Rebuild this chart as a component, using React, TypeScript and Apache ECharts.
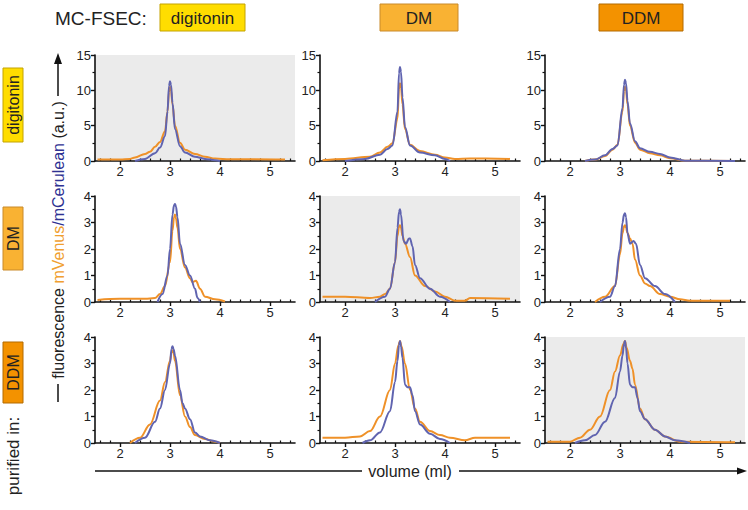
import React, { useEffect, useRef } from "react";
import * as echarts from "echarts";

const detergents = ["digitonin", "DM", "DDM"];
const detergentColors = ["#FFDD00", "#F9B233", "#F39200"];
const detergentBorders = ["#C4A300", "#C98A2A", "#B36B00"];
const yMaxByRow = [15, 4, 4];
const yIntervalByRow = [5, 1, 1];
const xMajorTicks = [2, 3, 4, 5];
const xMinorTicks = [1.6, 1.8, 2.2, 2.4, 2.6, 2.8, 3.2, 3.4, 3.6, 3.8, 4.2, 4.4, 4.6, 4.8, 5.2, 5.4];

// row 1: purified in digitonin
const p11Venus = [[1.55, 0.2], [2.0, 0.2], [2.2, 0.3], [2.3, 0.5], [2.5, 1.0], [2.6, 1.3], [2.7, 2.0], [2.8, 2.7], [2.9, 4.2], [2.95, 7], [2.98, 9.8], [3.0, 10.5], [3.02, 10.0], [3.05, 8], [3.1, 5], [3.2, 2.6], [3.3, 1.6], [3.5, 1.0], [3.7, 0.6], [3.9, 0.35], [4.2, 0.25], [4.6, 0.25], [5.3, 0.2]];
const p11Cerulean = [[2.3, 0], [2.5, 0.3], [2.7, 1.1], [2.8, 1.9], [2.9, 3.5], [2.95, 7], [2.98, 10.6], [3.0, 11.3], [3.02, 10.8], [3.05, 8.2], [3.1, 4.5], [3.2, 2.1], [3.3, 1.2], [3.5, 0.6], [3.7, 0.3], [3.9, 0.1], [4.0, 0]];
const p12Venus = [[1.55, 0.1], [2.0, 0.3], [2.5, 0.6], [2.7, 1.2], [2.85, 2.0], [2.95, 2.5], [3.05, 6], [3.08, 10.2], [3.1, 11], [3.12, 10.4], [3.15, 8], [3.2, 4.5], [3.3, 2.3], [3.5, 1.4], [3.8, 0.9], [4.0, 0.5], [4.2, 0.3], [4.5, 0.35], [5.3, 0.3]];
const p12Cerulean = [[2.0, 0], [2.4, 0.3], [2.7, 0.9], [2.85, 1.7], [2.95, 2.2], [3.05, 7], [3.08, 12.4], [3.1, 13.3], [3.12, 12.6], [3.15, 9], [3.2, 4.8], [3.3, 2.2], [3.5, 1.2], [3.8, 0.8], [4.0, 0.3], [4.1, 0]];
const p13Venus = [[2.3, 0], [2.5, 0.2], [2.7, 0.7], [2.85, 1.6], [2.95, 2.3], [3.05, 7], [3.08, 9.9], [3.1, 10.5], [3.12, 10.0], [3.15, 8], [3.2, 5], [3.3, 2.6], [3.4, 1.6], [3.6, 1.1], [3.8, 0.8], [4.0, 0.4], [4.3, 0.05], [5.3, 0]];
const p13Cerulean = [[2.3, 0], [2.5, 0.2], [2.7, 0.8], [2.85, 1.7], [2.95, 2.2], [3.05, 7.5], [3.08, 10.8], [3.1, 11.5], [3.12, 11.0], [3.15, 8.5], [3.2, 5.3], [3.3, 2.8], [3.4, 1.8], [3.6, 1.3], [3.8, 1.0], [4.0, 0.5], [4.3, 0.05], [5.3, 0]];

// row 2: purified in DM
const p21Venus = [[1.55, 0.08], [2.0, 0.12], [2.5, 0.12], [2.7, 0.15], [2.8, 0.3], [2.9, 0.6], [3.0, 1.5], [3.05, 2.7], [3.08, 3.2], [3.1, 3.3], [3.12, 3.15], [3.15, 2.8], [3.2, 2.0], [3.3, 1.3], [3.4, 0.9], [3.45, 0.75], [3.52, 0.8], [3.6, 0.5], [3.7, 0.2], [3.9, 0.1], [4.1, 0.02]];
const p21Cerulean = [[2.75, 0], [2.85, 0.3], [2.95, 1.0], [3.0, 2.0], [3.05, 3.3], [3.08, 3.65], [3.1, 3.7], [3.12, 3.6], [3.15, 3.2], [3.2, 2.2], [3.3, 1.4], [3.4, 1.0], [3.5, 0.5], [3.55, 0.15], [3.6, 0]];
const p22Venus = [[1.55, 0.2], [2.0, 0.2], [2.5, 0.15], [2.7, 0.2], [2.8, 0.3], [2.9, 0.5], [3.0, 1.5], [3.05, 2.5], [3.08, 2.85], [3.1, 2.9], [3.12, 2.8], [3.15, 2.5], [3.2, 2.2], [3.3, 1.7], [3.4, 1.0], [3.6, 0.6], [3.8, 0.4], [4.0, 0.2], [4.2, 0.05], [4.4, 0.05], [4.5, 0.15], [5.3, 0.12]];
const p22Cerulean = [[2.6, 0], [2.8, 0.2], [2.9, 0.5], [3.0, 1.5], [3.05, 2.8], [3.08, 3.4], [3.1, 3.5], [3.12, 3.3], [3.17, 2.3], [3.22, 2.2], [3.28, 2.4], [3.3, 2.4], [3.35, 2.1], [3.4, 1.4], [3.5, 0.9], [3.7, 0.5], [3.9, 0.2], [4.1, 0]];
const p23Venus = [[2.5, 0], [2.7, 0.2], [2.9, 0.6], [3.0, 1.8], [3.05, 2.6], [3.08, 2.85], [3.1, 2.9], [3.12, 2.8], [3.15, 2.6], [3.2, 2.4], [3.25, 2.2], [3.3, 1.6], [3.4, 1.0], [3.5, 0.7], [3.6, 0.6], [3.8, 0.3], [4.0, 0.2], [4.2, 0.1], [4.4, 0.05], [5.2, 0.05]];
const p23Cerulean = [[2.6, 0], [2.8, 0.2], [2.9, 0.6], [3.0, 2.0], [3.05, 3.0], [3.08, 3.3], [3.1, 3.35], [3.12, 3.2], [3.15, 2.6], [3.2, 2.2], [3.27, 2.3], [3.32, 2.2], [3.4, 1.4], [3.5, 0.9], [3.7, 0.6], [3.9, 0.3], [4.1, 0]];

// row 3: purified in DDM
const p31Venus = [[2.2, 0], [2.4, 0.2], [2.6, 0.7], [2.8, 1.6], [2.9, 2.3], [3.0, 3.1], [3.03, 3.4], [3.05, 3.5], [3.07, 3.4], [3.1, 3.1], [3.2, 1.8], [3.3, 1.0], [3.4, 0.6], [3.5, 0.3], [3.7, 0.15], [3.9, 0.05], [4.0, 0]];
const p31Cerulean = [[2.3, 0], [2.5, 0.2], [2.7, 0.8], [2.8, 1.3], [2.9, 2.0], [3.0, 3.0], [3.03, 3.55], [3.05, 3.65], [3.07, 3.55], [3.1, 3.3], [3.2, 2.0], [3.25, 1.5], [3.3, 1.3], [3.4, 0.9], [3.5, 0.4], [3.6, 0.25], [3.8, 0.1], [4.0, 0]];
const p32Venus = [[1.55, 0.2], [2.0, 0.2], [2.3, 0.25], [2.5, 0.45], [2.7, 1.0], [2.9, 2.0], [3.0, 3.0], [3.07, 3.7], [3.1, 3.85], [3.13, 3.65], [3.2, 3.0], [3.3, 2.0], [3.4, 1.3], [3.5, 0.8], [3.7, 0.45], [3.9, 0.3], [4.1, 0.2], [4.4, 0.1], [4.6, 0.2], [5.3, 0.2]];
const p32Cerulean = [[2.35, 0], [2.5, 0.1], [2.7, 0.4], [2.9, 1.2], [3.0, 2.3], [3.05, 3.1], [3.08, 3.7], [3.1, 3.85], [3.12, 3.65], [3.15, 3.2], [3.2, 2.2], [3.25, 2.1], [3.3, 2.1], [3.35, 1.8], [3.4, 1.2], [3.5, 0.7], [3.7, 0.35], [3.9, 0.15], [4.1, 0]];
const p33Venus = [[1.55, 0.05], [2.0, 0.05], [2.2, 0.2], [2.4, 0.5], [2.6, 1.0], [2.8, 2.0], [2.9, 2.7], [3.0, 3.3], [3.07, 3.75], [3.1, 3.85], [3.13, 3.6], [3.2, 3.1], [3.25, 2.8], [3.3, 2.2], [3.4, 1.3], [3.5, 0.9], [3.7, 0.5], [3.9, 0.25], [4.2, 0.05], [5.3, 0.03]];
const p33Cerulean = [[2.1, 0], [2.3, 0.1], [2.5, 0.3], [2.7, 0.8], [2.9, 1.7], [3.0, 2.7], [3.05, 3.3], [3.08, 3.75], [3.1, 3.85], [3.12, 3.6], [3.15, 3.0], [3.2, 2.2], [3.25, 2.1], [3.3, 2.1], [3.35, 1.7], [3.4, 1.2], [3.5, 0.9], [3.7, 0.5], [3.9, 0.25], [4.1, 0.1], [4.4, 0]];

const venusByPanel = [p11Venus, p12Venus, p13Venus, p21Venus, p22Venus, p23Venus, p31Venus, p32Venus, p33Venus];
const ceruleanByPanel = [p11Cerulean, p12Cerulean, p13Cerulean, p21Cerulean, p22Cerulean, p23Cerulean, p31Cerulean, p32Cerulean, p33Cerulean];

const FONT = "'Liberation Sans', Arial, Helvetica, sans-serif";
const ORANGE = "#EF9128";
const BLUE = "#6064B0";

export default function App() {
  const ref = useRef<HTMLDivElement>(null);
  useEffect(() => {
    if (!ref.current) return;
    const chart = echarts.init(ref.current, null, { renderer: "svg" });
    const lefts = [95, 320, 545];
    const tops = [55, 196, 337];
    const grids: any[] = [];
    const xAxes: any[] = [];
    const yAxes: any[] = [];
    const series: any[] = [];
    for (let r = 0; r < 3; r++) {
      for (let c = 0; c < 3; c++) {
        const i = r * 3 + c;
        grids.push({
          left: lefts[c], top: tops[r], width: 200, height: 106,
          show: r === c, backgroundColor: "#EBEBEB", borderWidth: 0,
        });
        xAxes.push({
          type: "value", gridIndex: i, min: 1.5, max: 5.5,
          axisLine: { show: true, onZero: false, lineStyle: { color: "#111", width: 1.6 } },
          axisTick: { show: true, customValues: xMajorTicks, length: 4, lineStyle: { color: "#111", width: 1.4 } },
          axisLabel: { show: true, customValues: xMajorTicks, fontSize: 13, color: "#222", fontFamily: FONT, margin: 4 },
          splitLine: { show: false },
        });
        xAxes.push({
          type: "value", gridIndex: i, min: 1.5, max: 5.5,
          axisLine: { show: false },
          axisTick: { show: true, customValues: xMinorTicks, length: 2.5, lineStyle: { color: "#111", width: 1.2 } },
          axisLabel: { show: false },
          splitLine: { show: false },
        });
        yAxes.push({
          type: "value", gridIndex: i, min: 0, max: yMaxByRow[r], interval: yIntervalByRow[r],
          axisLine: { show: true, lineStyle: { color: "#111", width: 1.6 } },
          axisTick: { show: true, length: 4, lineStyle: { color: "#111", width: 1.4 } },
          minorTick: { show: true, splitNumber: 2, length: 2.5, lineStyle: { color: "#111", width: 1.2 } },
          axisLabel: { fontSize: 13, color: "#222", fontFamily: FONT, margin: 4 },
          splitLine: { show: false },
        });
        series.push({
          type: "line", xAxisIndex: i * 2, yAxisIndex: i, data: venusByPanel[i],
          showSymbol: false, smooth: 0.35, smoothMonotone: "x",
          lineStyle: { color: ORANGE, width: 2 }, itemStyle: { color: ORANGE },
        });
        series.push({
          type: "line", xAxisIndex: i * 2, yAxisIndex: i, data: ceruleanByPanel[i],
          showSymbol: false, smooth: 0.35, smoothMonotone: "x",
          lineStyle: { color: BLUE, width: 2 }, itemStyle: { color: BLUE },
        });
      }
    }

    const topBoxes = [
      { x: 160, w: 85 },
      { x: 380, w: 78 },
      { x: 599, w: 84 },
    ];
    const sideBoxes = [
      { y: 68, h: 74 },
      { y: 207, h: 63 },
      { y: 342, h: 61 },
    ];
    const graphic: any[] = [
      { type: "text", x: 55, y: 18, style: { text: "MC-FSEC:", font: `19px ${FONT}`, fill: "#222", align: "left", verticalAlign: "middle" } },
    ];
    topBoxes.forEach((b, k) => {
      graphic.push({ type: "rect", shape: { x: b.x, y: 4, width: b.w, height: 27 }, style: { fill: detergentColors[k], stroke: detergentBorders[k], lineWidth: 1 } });
      graphic.push({ type: "text", x: b.x + b.w / 2, y: 18, style: { text: detergents[k], font: `17px ${FONT}`, fill: "#222", align: "center", verticalAlign: "middle" } });
    });
    sideBoxes.forEach((b, k) => {
      graphic.push({ type: "rect", shape: { x: 3, y: b.y, width: 20, height: b.h }, style: { fill: detergentColors[k], stroke: detergentBorders[k], lineWidth: 1 } });
      graphic.push({ type: "text", x: 13, y: b.y + b.h / 2, rotation: Math.PI / 2, style: { text: detergents[k], font: `16px ${FONT}`, fill: "#222", align: "center", verticalAlign: "middle" } });
    });
    graphic.push({ type: "text", x: 13, y: 456, rotation: Math.PI / 2, style: { text: "purified in:", font: `17px ${FONT}`, fill: "#222", align: "center", verticalAlign: "middle" } });
    // y title
    graphic.push({
      type: "text", x: 58, y: 240, rotation: Math.PI / 2,
      style: {
        text: "{a|fluorescence }{b|mVenus}{c|/mCerulean}{a| (a.u.)}",
        align: "center", verticalAlign: "middle",
        rich: {
          a: { fill: "#222", fontSize: 16, fontFamily: FONT },
          b: { fill: "#F0A030", fontSize: 16, fontFamily: FONT },
          c: { fill: "#2E3192", fontSize: 16, fontFamily: FONT },
        },
      },
    });
    graphic.push({ type: "line", shape: { x1: 58, y1: 384, x2: 58, y2: 402 }, style: { stroke: "#111", lineWidth: 1.5 } });
    graphic.push({ type: "line", shape: { x1: 58, y1: 96, x2: 58, y2: 62 }, style: { stroke: "#111", lineWidth: 1.5 } });
    graphic.push({ type: "polygon", shape: { points: [[58, 53], [54, 64], [62, 64]] }, style: { fill: "#111" } });
    // x title
    graphic.push({ type: "text", x: 410, y: 471, style: { text: "volume (ml)", font: `16px ${FONT}`, fill: "#222", align: "center", verticalAlign: "middle" } });
    graphic.push({ type: "line", shape: { x1: 95, y1: 471, x2: 362, y2: 471 }, style: { stroke: "#111", lineWidth: 1.3 } });
    graphic.push({ type: "line", shape: { x1: 459, y1: 471, x2: 740, y2: 471 }, style: { stroke: "#111", lineWidth: 1.3 } });
    graphic.push({ type: "polygon", shape: { points: [[747, 471], [737, 467.5], [737, 474.5]] }, style: { fill: "#111" } });

    chart.setOption({
      animation: false,
      backgroundColor: "#fff",
      grid: grids,
      xAxis: xAxes,
      yAxis: yAxes,
      series,
      graphic,
    });
    return () => chart.dispose();
  }, []);
  return <div ref={ref} style={{ position: "fixed", left: 0, top: 0, width: 748, height: 510 }} />;
}
